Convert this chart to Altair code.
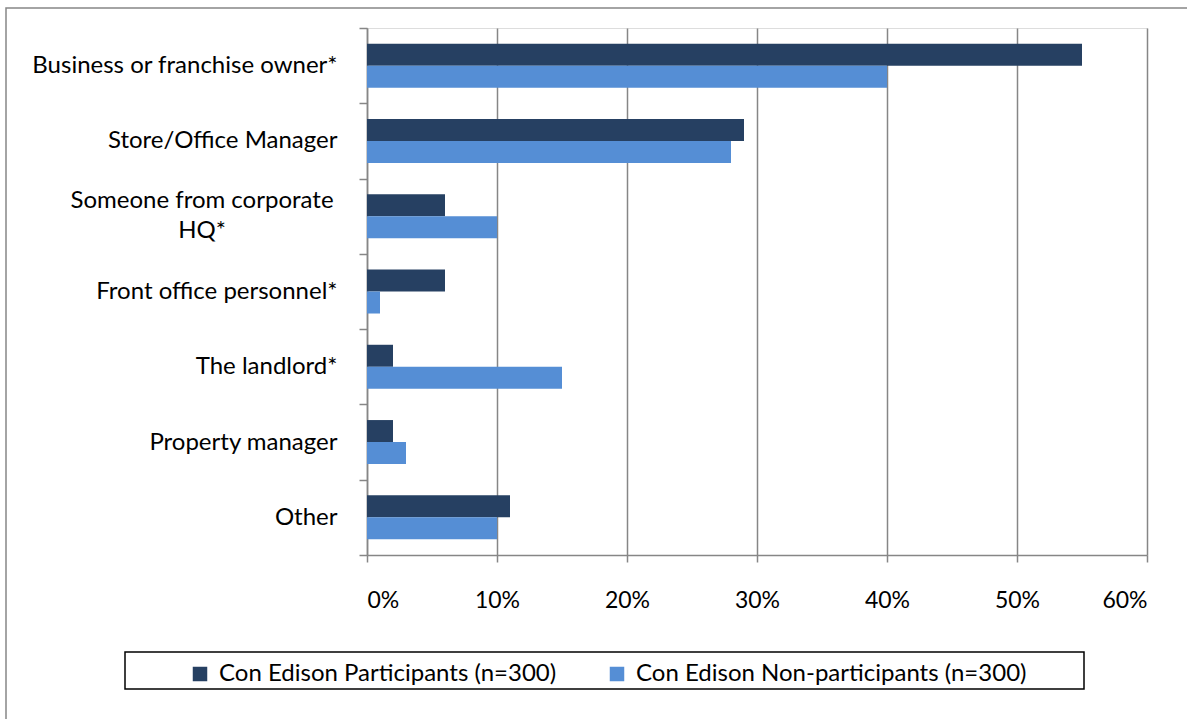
import altair as alt
import pandas as pd

categories = [
    "Business or franchise owner*",
    "Store/Office Manager",
    "Someone from corporate HQ*",
    "Front office personnel*",
    "The landlord*",
    "Property manager",
    "Other",
]
series = ["Con Edison Participants (n=300)", "Con Edison Non-participants (n=300)"]
participants = [55, 29, 6, 6, 2, 2, 11]
non_participants = [40, 28, 10, 1, 15, 3, 10]
x_ticks = [0, 0.1, 0.2, 0.3, 0.4, 0.5, 0.6]
colors = ["#264062", "#558ED5"]

rows = []
for c, p, n in zip(categories, participants, non_participants):
    rows.append({"category": c, "series": series[0], "value": p / 100})
    rows.append({"category": c, "series": series[1], "value": n / 100})
df = pd.DataFrame(rows)

wrapped = "Someone from corporate HQ*"
wrap_df = pd.DataFrame([{"category": wrapped, "text": "Someone from corporate\nHQ*"}])

FONT = "Lato"
FS = 24

y_enc = alt.Y(
    "category:N",
    sort=categories,
    title=None,
    scale=alt.Scale(paddingInner=0, paddingOuter=0),
    axis=alt.Axis(
        tickBand="extent",
        labelFont=FONT,
        labelFontSize=FS,
        labelFontWeight="normal",
        labelColor="#000000",
        labelPadding=22,
        labelLimit=0,
        tickSize=8,
        tickColor="#868686",
        tickWidth=1.5,
        domainColor="#868686",
        domainWidth=1.5,
        labelExpr=f"datum.label == '{wrapped}' ? '' : datum.label",
    ),
)

bars = alt.Chart(df).mark_bar().encode(
    x=alt.X(
        "value:Q",
        title=None,
        scale=alt.Scale(domain=[0, 0.6], nice=False),
        axis=alt.Axis(
            values=x_ticks,
            format=".0%",
            labelFont=FONT,
            labelFontSize=23,
            labelColor="#000000",
            labelPadding=27,
            tickSize=7,
            tickColor="#868686",
            tickWidth=1.5,
            domainColor="#868686",
            domainWidth=1.5,
            grid=True,
            gridColor="#868686",
            gridWidth=1.5,
        ),
    ),
    y=y_enc,
    yOffset=alt.YOffset(
        "series:N",
        sort=series,
        scale=alt.Scale(paddingInner=0, paddingOuter=0.71),
    ),
    color=alt.Color(
        "series:N",
        sort=series,
        scale=alt.Scale(domain=series, range=colors),
        legend=alt.Legend(
            title=None,
            orient="none",
            direction="horizontal",
            legendX=-179,
            legendY=634,
            symbolType="square",
            symbolSize=210,
            symbolStrokeWidth=0,
            labelFont=FONT,
            labelFontSize=FS,
            labelColor="#000000",
            labelOffset=7,
            labelLimit=0,
            columnPadding=48,
            padding=0,
        ),
    ),
)

wrap_text = alt.Chart(wrap_df).mark_text(
    font=FONT, fontSize=FS, align="center", baseline="middle", lineBreak="\n", lineHeight=30, dy=-15, color="#000000"
).encode(
    y=alt.Y("category:N", sort=categories),
    x=alt.value(-165),
    text="text:N",
)

frame_df = pd.DataFrame([{"k": 1}])
frame = alt.Chart(frame_df).mark_rect(fill=None, stroke="#868686", strokeWidth=1.5, clip=False).encode(
    x=alt.value(-361), x2=alt.value(900), y=alt.value(-20), y2=alt.value(760)
)
legend_box = alt.Chart(frame_df).mark_rect(fill=None, stroke="#000000", strokeWidth=1.5, clip=False).encode(
    x=alt.value(-242), x2=alt.value(717), y=alt.value(624), y2=alt.value(661)
)

chart = alt.layer(frame, bars, wrap_text, legend_box).properties(
    width=780,
    height=527,
    autosize=alt.AutoSizeParams(type="none"),
    padding={"left": 367, "top": 28, "right": 40, "bottom": 164},
).configure_view(stroke=None).configure(background="#ffffff")

chart.save("out.html", embed_options={"renderer": "svg", "actions": False})
